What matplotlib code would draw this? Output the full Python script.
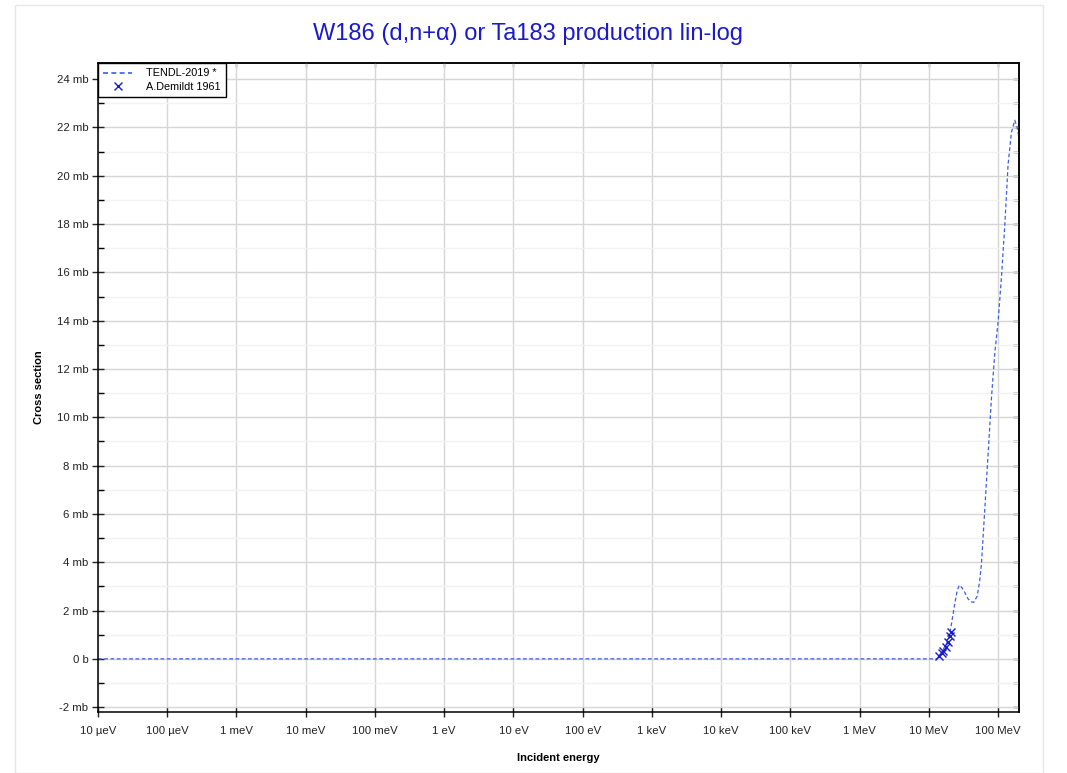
import numpy as np
import matplotlib
matplotlib.use("Agg")
import matplotlib.pyplot as plt
from matplotlib.lines import Line2D
from matplotlib.ticker import FixedLocator, FuncFormatter, MultipleLocator, NullFormatter

# TENDL-2019 curve (energy in eV, cross section in mb)
tendl_e = [1e-5, 1e3, 1e6, 1.0e7, 1.29e7, 1.41e7, 1.52e7, 1.61e7, 1.76e7, 1.86e7,
           2.01e7, 2.13e7, 2.37e7, 2.55e7, 2.74e7, 3.0e7, 3.3e7, 3.65e7, 3.99e7,
           4.45e7, 4.98e7, 5.4e7, 5.75e7, 6.43e7, 7.18e7, 8.02e7, 8.95e7, 1.0e8,
           1.12e8, 1.25e8, 1.39e8, 1.555e8, 1.738e8, 1.88e8, 1.99e8, 2.1e8]
tendl_s = [0.0, 0.0, 0.0, 0.0, 0.0, 0.12, 0.28, 0.40, 0.58, 0.74,
           1.05, 1.5, 2.3, 2.8, 3.05, 2.95, 2.75, 2.5, 2.37,
           2.34, 2.6, 3.2, 3.97, 6.26, 8.55, 10.84, 12.67, 13.97,
           15.88, 18.0, 20.46, 21.8, 22.3, 22.0, 21.6, 21.2]

# A.Demildt 1961
exp_e = [1.41e7, 1.52e7, 1.61e7, 1.76e7, 1.86e7, 2.01e7, 2.08e7]
exp_s = [0.10, 0.24, 0.34, 0.51, 0.68, 0.95, 1.13]

xtick_vals = [1e-5, 1e-4, 1e-3, 1e-2, 1e-1, 1, 10, 100, 1e3, 1e4, 1e5, 1e6, 1e7, 1e8]
xtick_labels = ["10 µeV", "100 µeV", "1 meV", "10 meV", "100 meV", "1 eV", "10 eV",
                "100 eV", "1 keV", "10 keV", "100 keV", "1 MeV", "10 MeV", "100 MeV"]

plt.rcParams['font.family'] = ['Liberation Sans', 'DejaVu Sans']

fig = plt.figure(figsize=(10.67, 7.73), dpi=100)
ax = fig.add_axes([98/1067, 1-711.5/773, (1019-98)/1067, (711.5-63)/773])

# outer light frame
fig.patches.append(plt.Rectangle((15/1067, 0), (1043-15)/1067, 1-5/773,
                                 transform=fig.transFigure, fill=False,
                                 edgecolor='#e6e6e6', lw=1))

ax.plot(tendl_e, tendl_s, '--', color='#3a5ee8', lw=0.9, dashes=(3, 2))
ax.plot(exp_e, exp_s, 'x', color='#1a1acc', ms=6, mew=1.0)

ax.set_xscale('log')
ax.set_xlim(1e-5, 2.0e8)
ax.set_ylim(-2.18, 24.67)

ax.xaxis.set_major_locator(FixedLocator(xtick_vals))
ax.set_xticklabels(xtick_labels)
ax.xaxis.set_minor_locator(FixedLocator([]))
ax.yaxis.set_major_locator(MultipleLocator(2))
ax.yaxis.set_minor_locator(MultipleLocator(1))

def yfmt(v, pos):
    if abs(v) < 1e-9:
        return "0 b"
    return "%d mb" % round(v)
ax.yaxis.set_major_formatter(FuncFormatter(yfmt))

ax.grid(True, which='major', color='#d6d6d6', lw=1.0)
ax.grid(True, which='minor', axis='y', color='#f2f2f2', lw=1.0)
ax.set_axisbelow(True)

ax.tick_params(which='major', direction='inout', length=8, width=1,
               labelsize=8.2, colors='#222222', pad=3)
ax.tick_params(axis='x', which='major', length=7, pad=7)
ax.tick_params(which='minor', direction='in', length=4, width=1)
for s in ax.spines.values():
    s.set_linewidth(1.1)

# top and right ticks pointing inwards
top = ax.secondary_xaxis('top')
top.xaxis.set_major_locator(FixedLocator(xtick_vals))
top.xaxis.set_minor_locator(FixedLocator([]))
top.xaxis.set_major_formatter(NullFormatter())
top.tick_params(direction='in', length=3, width=1, colors='#555555')
top.spines['top'].set_linewidth(1.1)
right = ax.secondary_yaxis('right')
right.yaxis.set_major_locator(MultipleLocator(1))
right.yaxis.set_major_formatter(NullFormatter())
right.tick_params(direction='in', length=4, width=1)
right.spines['right'].set_linewidth(1.1)

ax.set_xlabel("Incident energy", fontsize=8, fontweight='bold', labelpad=12)
ax.set_ylabel("Cross section", fontsize=8, fontweight='bold', labelpad=9)
fig.text(528/1067, 1-34/773, "W186 (d,n+α) or Ta183 production lin-log",
         ha='center', va='center', fontsize=17, color='#1a1acc')

handles = [Line2D([], [], ls='--', color='#3a5ee8', lw=1.2, dashes=(3, 2)),
           Line2D([], [], ls='none', marker='x', color='#1a1acc', ms=6, mew=1.0)]
leg = ax.legend(handles, ['TENDL-2019 *', 'A.Demildt 1961'], loc='upper left',
                fontsize=7.8, frameon=True, fancybox=False,
                borderaxespad=0.0, handlelength=2.6, borderpad=0.5,
                labelspacing=0.3, handletextpad=1.3)
leg.get_frame().set_edgecolor('black')
leg.get_frame().set_linewidth(1)
leg.get_frame().set_alpha(1)

fig.savefig("out.png", dpi=100)
